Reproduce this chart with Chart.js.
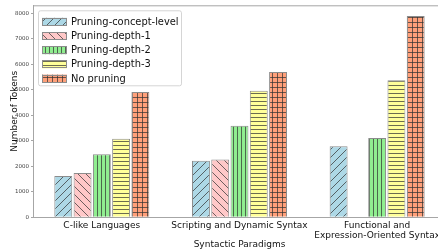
<!DOCTYPE html>
<html>
<head>
<meta charset="utf-8">
<script src="https://cdn.jsdelivr.net/npm/chart.js@4.4.0/dist/chart.umd.min.js"></script>
<style>
  html, body { margin: 0; padding: 0; background: #fff; overflow: hidden; }
  #wrap { width: 446px; height: 252px; position: relative; }
</style>
</head>
<body>
<div id="wrap"><canvas id="c"></canvas></div>
<script>
// ---- data ----
const categories = ['C-like Languages', 'Scripting and Dynamic Syntax', ['Functional and', 'Expression-Oriented Syntax']];
const seriesNames = ['Pruning-concept-level', 'Pruning-depth-1', 'Pruning-depth-2', 'Pruning-depth-3', 'No pruning'];
const conceptLevel = [1620, 2215, 2785];
const depth1 = [1735, 2265, null];
const depth2 = [2475, 3585, 3105];
const depth3 = [3080, 4960, 5370];
const noPruning = [4910, 5700, 7895];
const yTicks = [0, 1000, 2000, 3000, 4000, 5000, 6000, 7000, 8000];

// ---- styles ----
const fillColors = ['#ADD8E6', '#FFC8C8', '#90EE90', '#FFFF99', '#FFA07A'];
const hatchKinds = ['/', '\\', '|', '-', '+'];
const HATCH = 'rgba(50,50,50,0.8)';

function makePattern(bg, kind) {
  const size = kind === '/' || kind === '\\' ? 8 : (kind === '+' ? 5 : 4);
  const c = document.createElement('canvas');
  c.width = size; c.height = size;
  const g = c.getContext('2d');
  g.fillStyle = bg; g.fillRect(0, 0, size, size);
  g.strokeStyle = HATCH; g.lineWidth = 0.9;
  g.beginPath();
  if (kind === '/') {
    for (const k of [-size, 0, size]) { g.moveTo(k, size); g.lineTo(k + size, 0); }
  } else if (kind === '\\') {
    for (const k of [-size, 0, size]) { g.moveTo(k, 0); g.lineTo(k + size, size); }
  } else if (kind === '|') {
    g.moveTo(1.5, 0); g.lineTo(1.5, size);
  } else if (kind === '-') {
    g.moveTo(0, 1.5); g.lineTo(size, 1.5);
  } else if (kind === '+') {
    g.moveTo(2.5, 0); g.lineTo(2.5, size);
    g.moveTo(0, 2.5); g.lineTo(size, 2.5);
  }
  g.stroke();
  return g.createPattern(c, 'repeat');
}

const seriesValues = [conceptLevel, depth1, depth2, depth3, noPruning];
const datasets = seriesValues.map((vals, i) => ({
  label: seriesNames[i],
  data: vals,
  backgroundColor: makePattern(fillColors[i], hatchKinds[i]),
  borderColor: '#8c8c8c',
  borderWidth: 1,
  categoryPercentage: 0.7,
  barPercentage: 0.93
}));

const FONT = '"DejaVu Sans", sans-serif';

const bgPlugin = {
  id: 'bg',
  beforeDraw(chart) {
    const ctx = chart.ctx;
    ctx.save(); ctx.fillStyle = '#fff';
    ctx.fillRect(0, 0, chart.width, chart.height); ctx.restore();
  }
};

const framePlugin = {
  id: 'frame',
  afterDraw(chart) {
    const { ctx, chartArea: a } = chart;
    ctx.save();
    ctx.strokeStyle = '#a6a6a6'; ctx.lineWidth = 1;
    ctx.beginPath();
    ctx.moveTo(a.left, a.top + 0.5); ctx.lineTo(a.right, a.top + 0.5);
    ctx.moveTo(a.right - 0.5, a.top); ctx.lineTo(a.right - 0.5, a.bottom);
    ctx.stroke();
    ctx.restore();
  }
};

const legendPlugin = {
  id: 'customLegend',
  afterDraw(chart) {
    const ctx = chart.ctx;
    const a = chart.chartArea;
    const x0 = a.left + 5.5, y0 = a.top + 5.5, w = 143, h = 75;
    ctx.save();
    ctx.fillStyle = 'rgba(255,255,255,0.8)';
    ctx.strokeStyle = '#d5d5d5'; ctx.lineWidth = 1;
    const r = 2;
    ctx.beginPath();
    ctx.moveTo(x0 + r, y0); ctx.lineTo(x0 + w - r, y0); ctx.arcTo(x0 + w, y0, x0 + w, y0 + r, r);
    ctx.lineTo(x0 + w, y0 + h - r); ctx.arcTo(x0 + w, y0 + h, x0 + w - r, y0 + h, r);
    ctx.lineTo(x0 + r, y0 + h); ctx.arcTo(x0, y0 + h, x0, y0 + h - r, r);
    ctx.lineTo(x0, y0 + r); ctx.arcTo(x0, y0, x0 + r, y0, r);
    ctx.closePath(); ctx.fill(); ctx.stroke();
    ctx.font = '9.9px ' + FONT;
    ctx.textBaseline = 'middle';
    chart.data.datasets.forEach((ds, i) => {
      const cy = y0 + 11 + i * 14.2;
      const px = x0 + 3.5, pw = 25, ph = 8;
      ctx.fillStyle = ds.backgroundColor;
      ctx.fillRect(px, cy - ph / 2, pw, ph);
      ctx.strokeStyle = ds.borderColor;
      ctx.strokeRect(px + 0.5, Math.round(cy - ph / 2) + 0.5, pw - 1, ph - 1);
      ctx.fillStyle = '#111';
      ctx.fillText(ds.label, x0 + 32.5, cy + 0.5);
    });
    ctx.restore();
  }
};

new Chart(document.getElementById('c'), {
  type: 'bar',
  data: { labels: categories, datasets },
  plugins: [bgPlugin, framePlugin, legendPlugin],
  options: {
    responsive: true,
    maintainAspectRatio: false,
    animation: false,
    devicePixelRatio: 1,
    layout: { padding: { top: 3, left: 0, right: 0, bottom: 0 } },
    plugins: { legend: { display: false }, tooltip: { enabled: false } },
    scales: {
      x: {
        grid: { display: false },
        border: { display: true, color: '#a6a6a6', width: 1 },
        ticks: { color: '#111', font: { family: FONT, size: 9, lineHeight: 1.12 }, padding: -5, maxRotation: 0, autoSkip: false },
        title: { display: true, text: 'Syntactic Paradigms', color: '#111', font: { family: FONT, size: 9 }, padding: { top: 0, bottom: 2 } },
        afterFit(s) { s.height = 34.7; }
      },
      y: {
        min: 0, max: 8310,
        grid: { display: true, drawOnChartArea: false, tickLength: 2, color: '#a6a6a6' },
        border: { display: true, color: '#a6a6a6', width: 1 },
        ticks: { color: '#444', font: { family: FONT, size: 5.5 }, padding: 2, callback: v => String(v) },
        afterBuildTicks(s) { s.ticks = yTicks.map(v => ({ value: v })); },
        title: { display: true, text: 'Number of Tokens', color: '#111', font: { family: FONT, size: 9 }, padding: { top: 9, bottom: 0 } },
        afterFit(s) { s.width = 33; }
      }
    }
  }
});
</script>
</body>
</html>
